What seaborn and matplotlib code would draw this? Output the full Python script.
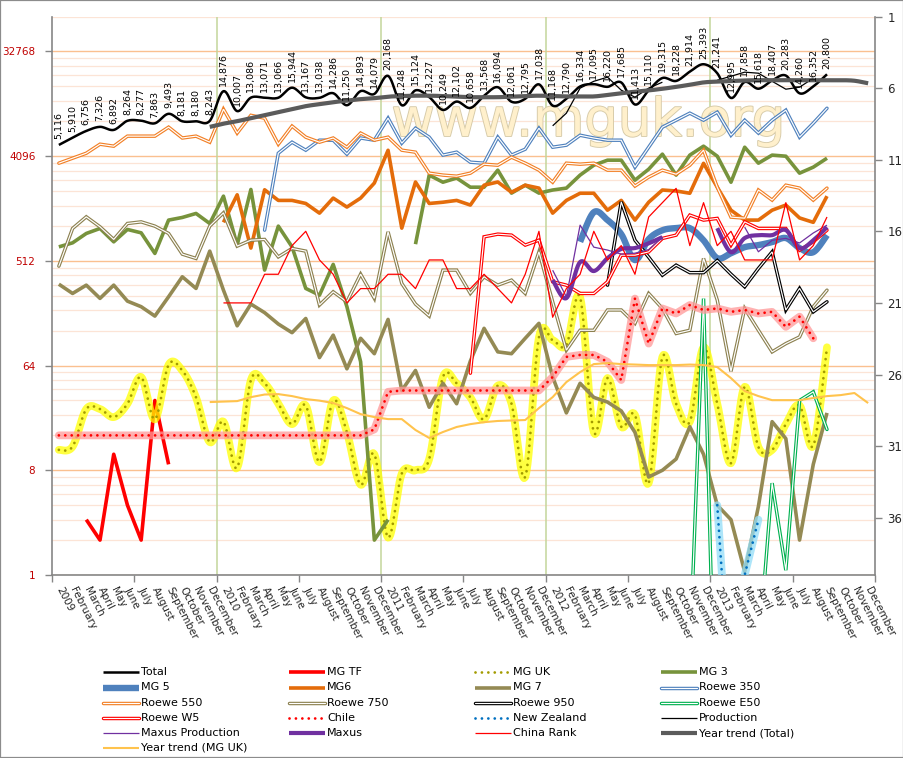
import numpy as np
import matplotlib
matplotlib.use("Agg")
import matplotlib.pyplot as plt
import matplotlib.patheffects as pe
from matplotlib.lines import Line2D
from matplotlib.patches import Rectangle
from matplotlib.ticker import FixedLocator, NullFormatter
import seaborn as sns

sns.set_theme(style="white")
plt.rcParams['font.family'] = ['DejaVu Sans']

nan = np.nan

# ---- x categories (monthly, Jan 2009 .. Dec 2013) ----
month_names = ["February", "March", "April", "May", "June", "July", "August",
               "September", "October", "November", "December"]
years = ["2009", "2010", "2011", "2012", "2013"]
x_labels = []
for yr in years:
    x_labels += [yr] + month_names

# ---- series (start index, values) ----
total_start = 0
total = [5116, 5910, 6756, 7326, 6892, 8264, 8277, 7863, 9493, 8181, 8180, 8243,
         14876, 10007, 13086, 13071, 13066, 15944, 13167, 13038, 14286, 11250, 14893, 14079,
         20168, 11248, 15124, 13227, 10249, 12102, 10658, 13568, 16094, 12061, 12795, 17038,
         11168, 12790, 16334, 17095, 16220, 17685, 11413, 15110, 19315, 18228, 21914, 25393,
         21241, 12995, 17858, 15618, 18407, 20283, 14260, 16352, 20800]

mg_tf_start = 2
mg_tf = [3, 2, 11, 4, 2, 32, 9]

mg_uk_start = 0
mg_uk = [12, 12.8, 27, 27, 23, 30, 51, 22, 65, 58, 34, 14, 21, 8.4, 48, 45, 30, 20, 29, 9.4,
         32, 17, 6, 11, 2.1, 7.5, 8, 10, 51, 45, 34, 22, 43, 30, 7, 112, 106, 96, 249, 17,
         50, 19, 24, 6.2, 76, 30, 21, 92, 30, 9.2, 42, 12.7, 12, 20, 29, 13, 92]

mg3_start = 0
mg3 = [676, 732, 882, 974, 747, 955, 893, 593, 1150, 1212, 1312, 1075, 1850, 700, 2113, 426,
       1020, 676, 296, 259, 477, 206, 69, 2, 3, nan, 713, 2810, 2440, 2650, 2210, 2210, 3100,
       1965, 2300, 1965, 2090, 2170, 2810, 3420, 3780, 3780, 2540, 3160, 4260, 2810, 4180,
       4990, 4090, 2440, 4890, 3560, 4180, 4090, 2920, 3290, 3930]

mg5_start = 38
mg5 = [747, 1345, 1150, 870, 520, 788, 940, 980, 980, 770, 540, 596, 672, 700, 743, 805,
       660, 608, 853]

mg6_start = 12
mg6 = [1100, 1900, 660, 2100, 1700, 1700, 1600, 1320, 1780, 1490, 1780, 2400, 4600, 980,
       2450, 1600, 1640, 1700, 1550, 2300, 2450, 2000, 2300, 2170, 1320, 1700, 1960, 1960,
       1400, 1700, 1150, 1640, 2090, 2050, 1960, 3550, 2210, 1400, 1150, 1150, 1400, 1550,
       1200, 1100, 1850]

mg7_start = 0
mg7 = [322, 268, 316, 243, 316, 230, 206, 171, 251, 373, 296, 621, 286, 141, 217, 183, 146,
       123, 163, 75, 117, 60, 110, 81, 160, 39, 58, 28, 45, 30, 70, 134, 84, 81, 110, 148,
       51, 25, 45, 34, 31, 26, 17, 7, 8, 10, 19, 11, 4, 3, 1.07, 3.9, 21, 15, 2, 9, 25]

roewe350_start = 15
roewe350 = [942, 4340, 5400, 4610, 5620, 5620, 4260, 5870, 5620, 8700, 5300, 7130, 5970,
            4180, 4430, 3630, 3560, 5970, 4180, 4700, 7130, 4890, 5090, 6200, 5870, 5620,
            5620, 3290, 4890, 7280, 8360, 9610, 8360, 9800, 6200, 8360, 6470, 8360, 10200,
            5970, 7880, 10600]

roewe550_start = 0
roewe550 = [3560, 3930, 4340, 5190, 4990, 6090, 6090, 6090, 7280, 5870, 6090, 5400, 10400,
            6470, 9210, 8700, 5190, 7440, 5970, 5400, 5870, 4890, 6470, 5620, 5970, 4610,
            4430, 2920, 2810, 2750, 2920, 3490, 3420, 4010, 3560, 3100, 2440, 3560, 3490,
            3560, 3100, 3100, 2260, 2700, 3100, 2860, 3420, 4610, 2210, 1220, 1195, 2090,
            1710, 2300, 2170, 1710, 2170]

roewe750_start = 0
roewe750 = [461, 974, 1227, 1006, 783, 1075, 1110, 1020, 882, 585, 537, 1020, 1328, 686, 772,
            783, 554, 655, 621, 213, 277, 227, 393, 243, 911, 327, 217, 171, 426, 426, 268,
            373, 316, 349, 268, 612, 227, 87, 129, 129, 193, 193, 148, 268, 199, 121, 129,
            537, 235, 57, 199, 129, 84, 99, 113, 206, 286]

roewe950_start = 40
roewe950 = [316, 1650, 772, 551, 385, 470, 405, 405, 516, 393, 306, 440, 612, 193, 296, 186, 227]

roewe_e50_start = 46
roewe_e50 = [0.2, 242, 0.01, 0.01, 0.01, 0.2, 6.2, 1.1, 32, 38, 18]

roewe_w5_start = 30
roewe_w5 = [55, 825, 870, 853, 700, 772, 338, 316, 268, 268, 338, 573, 573, 612, 799, 853,
            1270, 1150, 1189, 700, 1111, 974, 974, 974, 633, 747, 942]

chile_start = 0
chile = [16, 16, 16, 16, 16, 16, 16, 16, 16, 16, 16, 16, 16, 16, 16, 16, 16, 16, 16, 16,
         16, 16, 16, 18, 38, 39, 39, 39, 39, 39, 39, 39, 39, 39, 39, 39, 51, 76, 79, 79,
         69, 48, 242, 99, 199, 180, 213, 193, 199, 186, 193, 180, 186, 138, 169, 110]

new_zealand_start = 48
new_zealand = [4, 0.07, 1, 3]

production_start = 36
production = [7480, 9610, 15800, 18100, 19650, 15170, 13200, 15800, 17780, nan, nan, nan,
              18500, 20000, 21700, 21250, 18100, 15470, 16100, 19250]

maxus_prod_start = 36
maxus_prod = [425, 250, 1040, 672, 634, 585, 596, 640, 820, nan, nan, nan, nan, nan,
              1000, 613, 770, 800, 730, 890, 1040]

maxus_start = 36
maxus = [350, 244, 500, 418, 540, 648, 660, 725, 820, nan, nan, nan, 980, 608, 805, 853,
         853, 943, 658, 770, 1000]

china_rank_start = 12
china_rank = [21, 21, 21, 19, 19, 17, 16, 18, 19, 21, 20, 20, 19, 19, 20, 18, 18, 20, 20, 19,
              20, 21, 19, 16, 22, 20, 19, 16, 18, 17, 19, 15, 14, 13, 17, 14, 17, 16, 18, 18,
              18, 14, 18, 17, 15]

trend_total_start = 11
trend_total = [7320, 7800, 8200, 8700, 9240, 9800, 10400, 11050, 11500, 11950, 12330, 12700,
               12950, 13340, 13500, 13600, 13600, 13500, 13340, 13200, 13200, 13200, 13340,
               13500, 13600, 13500, 13400, 13400, 13400, 13800, 14300, 14700, 15100, 15600,
               16200, 16900, 17700, 18000, 18200, 18400, 18500, 18500, 18500, 18500, 18500,
               18500, 18500, 18300, 17400]

trend_uk_start = 11
trend_uk = [31.0, 31.3, 31.6, 34.2, 36.0, 36.3, 34.9, 32.9, 31.9, 30.4, 27.5, 24.4, 23.0,
            22.1, 22.1, 17.8, 15.2, 17.1, 18.9, 20.0, 20.8, 21.3, 21.5, 21.7, 27.5, 34.2,
            46.1, 56.2, 65.9, 67.2, 65.9, 65.3, 64.6, 64.6, 64.6, 65.3, 64.6, 62.1, 49.9,
            38.6, 34.9, 32.2, 32.2, 32.2, 33.6, 34.9, 35.6, 37.1, 30.4]

N = len(x_labels)
xpos = np.arange(N)


def pad(start, vals):
    out = np.full(N, np.nan)
    out[start:start + len(vals)] = vals
    return out


def smooth(yv, steps=12):
    # Bezier smoothing like the spreadsheet "smoothed line", done in log2 space
    ly = np.log2(np.asarray(yv, float))
    good = np.where(~np.isnan(ly))[0]
    runs = np.split(good, np.where(np.diff(good) > 1)[0] + 1)
    ox, oy = [], []
    for r in runs:
        px, py = xpos[r].astype(float), ly[r]
        m = len(r)
        for k in range(m - 1):
            k0, k3 = max(k - 1, 0), min(k + 2, m - 1)
            b0 = np.array([px[k], py[k]])
            b3 = np.array([px[k + 1], py[k + 1]])
            b1 = b0 + (b3 - np.array([px[k0], py[k0]])) / 6
            b2 = b3 - (np.array([px[k3], py[k3]]) - b0) / 6
            t = np.linspace(0, 1, steps, endpoint=False)[:, None]
            p = (1 - t) ** 3 * b0 + 3 * (1 - t) ** 2 * t * b1 + 3 * (1 - t) * t ** 2 * b2 + t ** 3 * b3
            ox += list(p[:, 0]); oy += list(p[:, 1])
        ox += [px[-1], np.nan]; oy += [py[-1], np.nan]
    return np.array(ox), 2.0 ** np.array(oy)


def layers(kind, color, lw, legend=False):
    if kind == 'solid':
        return [dict(color=color, lw=lw, solid_capstyle='butt', solid_joinstyle='round')]
    if kind == 'double':
        return [dict(color=color, lw=lw, solid_joinstyle='miter'),
                dict(color='white', lw=lw * 0.34, solid_joinstyle='miter')]
    glow, dot = color
    out = [] if legend else [dict(color=glow, lw=5.6, alpha=0.75, solid_capstyle='round',
                                  solid_joinstyle='round')]
    out.append(dict(color=dot, lw=lw, ls=(0, (0.01, 2.3)), dash_capstyle='round'))
    return out


# name, data, kind, color, lw, smoothed, right-axis
series = [
    ("Total", pad(total_start, total), 'solid', 'black', 1.8, True, False),
    ("MG TF", pad(mg_tf_start, mg_tf), 'solid', '#FF0000', 2.6, False, False),
    ("MG UK", pad(mg_uk_start, mg_uk), 'glow', ('#FFFF00', '#A39B00'), 2.0, True, False),
    ("MG 3", pad(mg3_start, mg3), 'solid', '#77933C', 2.6, False, False),
    ("MG 5", pad(mg5_start, mg5), 'solid', '#4F81BD', 4.6, True, False),
    ("MG6", pad(mg6_start, mg6), 'solid', '#E46C0A', 2.6, False, False),
    ("MG 7", pad(mg7_start, mg7), 'solid', '#948A54', 2.6, False, False),
    ("Roewe 350", pad(roewe350_start, roewe350), 'double', '#4F81BD', 2.5, False, False),
    ("Roewe 550", pad(roewe550_start, roewe550), 'double', '#F27F25', 2.5, False, False),
    ("Roewe 750", pad(roewe750_start, roewe750), 'double', '#8C8150', 2.5, False, False),
    ("Roewe 950", pad(roewe950_start, roewe950), 'double', '#000000', 2.5, False, False),
    ("Roewe E50", pad(roewe_e50_start, roewe_e50), 'double', '#00B050', 2.5, False, False),
    ("Roewe W5", pad(roewe_w5_start, roewe_w5), 'double', '#FF0000', 2.5, False, False),
    ("Chile", pad(chile_start, chile), 'glow', ('#FF9999', '#FF0000'), 2.0, False, False),
    ("New Zealand", pad(new_zealand_start, new_zealand), 'glow', ('#92DDF7', '#0070C0'), 2.0, False, False),
    ("Production", pad(production_start, production), 'solid', 'black', 0.9, False, False),
    ("Maxus Production", pad(maxus_prod_start, maxus_prod), 'solid', '#7030A0', 0.9, False, False),
    ("Maxus", pad(maxus_start, maxus), 'solid', '#7030A0', 3.0, True, False),
    ("China Rank", pad(china_rank_start, china_rank), 'solid', '#FF0000', 0.9, False, True),
    ("Year trend (Total)", pad(trend_total_start, trend_total), 'solid', '#5B5B5B', 3.0, True, False),
    ("Year trend (MG UK)", pad(trend_uk_start, trend_uk), 'solid', '#FFC34D', 1.5, False, False),
]

W, H = 904, 758
fig = plt.figure(figsize=(W / 100, H / 100), dpi=100)
ax = fig.add_axes([52 / W, 1 - 575 / H, 823 / W, (575 - 16.5) / H])
ax2 = ax.twinx()

ax.set_yscale('log', base=2)
ax.set_ylim(1, 65536)
ax.set_xlim(-0.5, N - 0.5)
ax2.set_ylim(40, 1)

# grid
major_y = [1, 8, 64, 512, 4096, 32768]
minor_y = [m * 8 ** k for k in range(6) for m in range(2, 8) if m * 8 ** k <= 65536]
ax.set_yticks(major_y)
ax.set_yticklabels([str(v) for v in major_y])
ax.yaxis.set_minor_locator(FixedLocator(minor_y))
ax.yaxis.set_minor_formatter(NullFormatter())
ax.yaxis.grid(True, which='minor', color='#FCE4D6', lw=0.9, zorder=0)
ax.yaxis.grid(True, which='major', color='#FAC090', lw=1.0, zorder=0)
ax.xaxis.grid(False)
ax.set_axisbelow(True)
for xb in [11.5, 23.5, 35.5, 47.5]:
    ax.axvline(xb, color='#C3D69B', lw=1.1, zorder=1)

ax.set_xticks(np.arange(-0.5, N, 6))
ax.set_xticklabels([])
ax.set_xticks(xpos, minor=True)
ax.set_xticklabels(x_labels, minor=True, rotation=-63, ha='left', va='center',
                   rotation_mode='anchor', fontsize=7.5)
ax.tick_params(axis='x', which='major', bottom=True, length=5, width=1, color='#868686', direction='out')
ax.tick_params(axis='x', which='minor', bottom=True, length=0, pad=9)
ax.tick_params(axis='y', which='major', left=True, length=5, width=1, color='#868686',
               labelcolor='#C00000', labelsize=7.5, pad=7)
ax.tick_params(axis='y', which='minor', left=False, length=0)

ax2.set_yticks([1, 6, 11, 16, 21, 26, 31, 36])
ax2.tick_params(axis='y', right=True, length=5, width=1, color='#868686', labelsize=8.5, pad=4)
ax2.grid(False)

for s in ['top', 'right']:
    ax.spines[s].set_visible(False)
for s in ['left', 'bottom']:
    ax.spines[s].set_color('#868686'); ax.spines[s].set_linewidth(1.2)
for s in ['top', 'left', 'bottom']:
    ax2.spines[s].set_visible(False)
ax2.spines['right'].set_color('#868686'); ax2.spines['right'].set_linewidth(1.2)

# watermark
ax.text(588 / W, 1 - 136 / H, "www.mguk.org", transform=fig.transFigure, ha='center',
        va='baseline', fontsize=38, color='#FFF0CC', zorder=1.5,
        path_effects=[pe.withStroke(linewidth=1.3, foreground='#D6CAA8')])

# data lines
z = 2.0
for name, data, kind, color, lw, sm, right in series:
    target = ax2 if right else ax
    if sm:
        xs, ys = smooth(data)
    else:
        xs, ys = xpos, data
    for j, kw in enumerate(layers(kind, color, lw)):
        if right:
            sns.lineplot(x=xs[~np.isnan(ys)], y=ys[~np.isnan(ys)], ax=target, zorder=z + 0.01 * j,
                         legend=False, sort=False, estimator=None, **kw)
        else:
            target.plot(xs, ys, zorder=z + 0.01 * j, **kw)
    z += 0.1

# data labels on Total
for i, v in enumerate(total):
    ax.annotate(f"{v:,}", (total_start + i, v), xytext=(0, 4), textcoords='offset points',
                rotation=90, ha='center', va='bottom', fontsize=6.8, color='black',
                zorder=10, annotation_clip=False)

ax.set_xlabel(""); ax.set_ylabel(""); ax2.set_ylabel(""); ax2.set_xlabel("")

# legend, laid out like the original: 4 columns, row-major order
col_x = [103, 289, 475, 661]
row_y = [672, 687.5, 703, 718, 733, 748]
for k, (name, data, kind, color, lw, sm, right) in enumerate(series):
    cx = col_x[k % 4]
    cy = 1 - row_y[k // 4] / H
    for kw in layers(kind, color, lw, legend=True):
        fig.add_artist(Line2D([cx / W, (cx + 36) / W], [cy, cy], transform=fig.transFigure, **kw))
    fig.text((cx + 38) / W, cy, name, ha='left', va='center', fontsize=8, color='black')

fig.add_artist(Rectangle((0, 0), 1, 1, transform=fig.transFigure, fill=False,
                         ec='#8C8C8C', lw=1.6))

fig.savefig("out.png", dpi=100)
